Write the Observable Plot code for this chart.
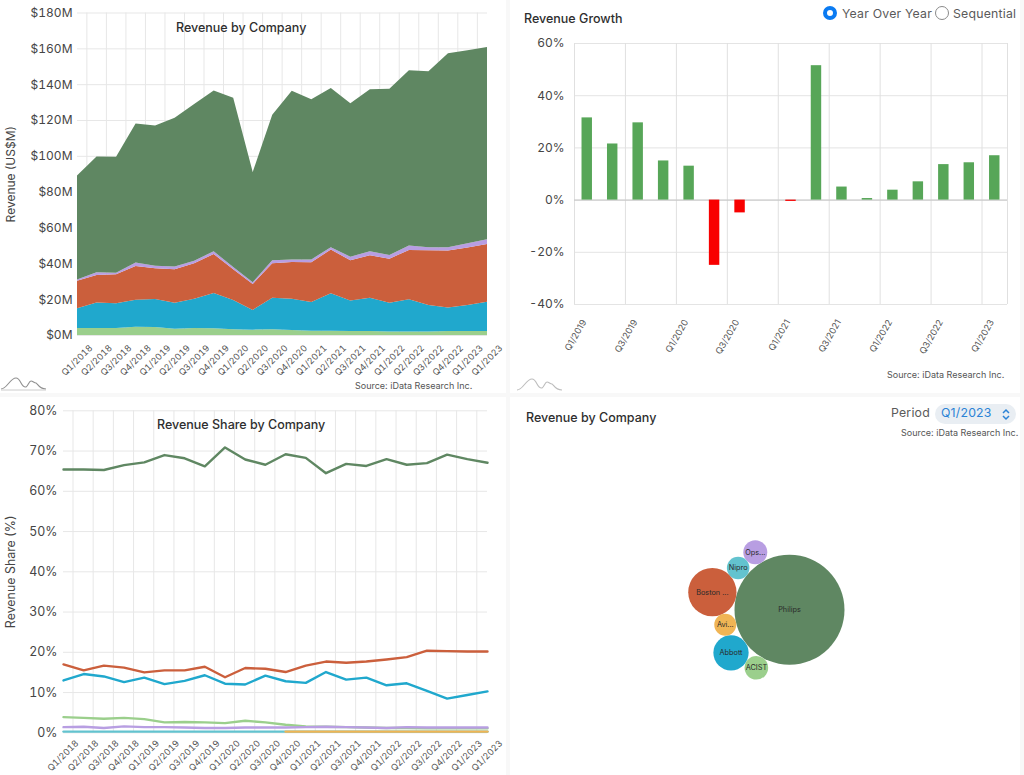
<!DOCTYPE html>
<html><head><meta charset="utf-8">
<script src="https://cdn.jsdelivr.net/npm/d3@7"></script>
<script src="https://cdn.jsdelivr.net/npm/@observablehq/plot@0.6"></script>
<style>
html,body{margin:0;padding:0;background:#f8f8f8;width:1024px;height:775px;overflow:hidden;font-family:Inter,"Noto Sans",sans-serif;}
.panel{position:absolute;background:#fff;}
.chart{position:absolute;}
.t{position:absolute;white-space:nowrap;line-height:1;}
.title{font-size:12.5px;font-weight:500;color:#2e2e2e;}
.src{font-size:9px;color:#555;}
.ctl{font-size:12.3px;color:#5a5a5a;letter-spacing:.2px;}
.radio{position:absolute;border-radius:50%;box-sizing:border-box;}
svg.logo{position:absolute;overflow:visible;}
</style></head><body>
<div class="panel" style="left:0;top:0;width:506px;height:393px"></div>
<div class="panel" style="left:510px;top:0;width:510px;height:393px"></div>
<div class="panel" style="left:0;top:397px;width:506px;height:378px"></div>
<div class="panel" style="left:510px;top:397px;width:510px;height:378px"></div>
<div class="chart" id="c1" style="left:0;top:0"></div>
<div class="chart" id="c2" style="left:510px;top:0"></div>
<div class="chart" id="c3" style="left:0;top:395px"></div>
<div class="chart" id="c4" style="left:510px;top:440px"></div>

<div class="t title" style="left:176px;top:22px">Revenue by Company</div>
<div class="t src" style="left:355px;top:381px">Source: iData Research Inc.</div>
<div class="t title" style="left:524px;top:13px">Revenue Growth</div>
<div class="t src" style="left:887px;top:370px">Source: iData Research Inc.</div>
<div class="t title" style="left:157px;top:419px">Revenue Share by Company</div>
<div class="t title" style="left:526px;top:412px">Revenue by Company</div>
<div class="t src" style="left:901px;top:428px">Source: iData Research Inc.</div>

<div class="radio" style="left:823px;top:6px;width:14px;height:14px;border:4px solid #0b7bf2;background:#fff"></div>
<div class="t ctl" style="left:842px;top:8px">Year Over Year</div>
<div class="radio" style="left:935px;top:6px;width:14px;height:14px;border:1px solid #8a8a8a;background:#fff"></div>
<div class="t ctl" style="left:953px;top:8px">Sequential</div>
<div class="t ctl" style="left:891px;top:407px">Period</div>
<div style="position:absolute;left:935px;top:404px;width:81px;height:20px;border-radius:10px;background:#e9eef3"></div>
<div class="t ctl" style="left:941px;top:407px;color:#2b83d6">Q1/2023</div>
<svg class="logo" style="left:1000px;top:408px" width="12" height="12" viewBox="0 0 12 12"><path d="M3 5 L6 2 L9 5 M3 8 L6 11 L9 8" fill="none" stroke="#2b83d6" stroke-width="1.5"/></svg>
<svg class="logo" style="left:0;top:375px" width="48" height="16" viewBox="0 0 48 16"><path d="M1 14 C7 14 10 3 16 3 C21 3 21 13 26 12 C28 11 29 6 31 6 C33 6 34 8 36 8 C38 9 39 14 46 14" fill="none" stroke="#8f8f8f" stroke-width="1.1"/><path d="M1 15 H46" stroke="#ccc" stroke-width="1"/></svg>
<svg class="logo" style="left:516px;top:376px" width="48" height="16" viewBox="0 0 48 16"><path d="M1 14 C7 14 10 3 16 3 C21 3 21 13 26 12 C28 11 29 6 31 6 C33 6 34 8 36 8 C38 9 39 14 46 14" fill="none" stroke="#bdbdbd" stroke-width="1.1"/></svg>

<script>
// ---------- data ----------
const companies = ["ACIST","Abbott","Boston Scientific","OpSens","Philips","Nipro","Avinger"];
const companyColors = ["#9bcf8c","#20a8cd","#cb5f3c","#b89ee2","#5f8762","#63c3cf","#f0b555"];

const trendLabels = ["Q1/2018","Q2/2018","Q3/2018","Q4/2018","Q1/2019","Q2/2019","Q3/2019","Q4/2019","Q1/2020","Q2/2020","Q3/2020","Q4/2020","Q1/2021","Q2/2021","Q3/2021","Q4/2021","Q1/2022","Q2/2022","Q3/2022","Q4/2022","Q1/2023","Q1/2023"];

const revAcist  = [3.9,3.9,3.9,4.6,4.4,3.5,3.9,3.7,3.2,3,3.2,2.8,2.4,2.4,2.2,2.2,2,1.9,1.9,2.2,2.2,2.2];
const revAbbott = [11.1,14.3,13.8,15.1,15.7,14.5,16.4,19.8,16.3,11,17.6,17.5,16,20.9,17,18.6,16,18.1,14.9,13.1,14.6,16.4];
const revBoston = [15.3,15.3,16.2,18.8,17.1,18.7,19.7,21.7,17.2,14.5,19.2,20.5,22.2,24.4,22.5,23.7,24.6,27.5,30.5,31.8,32,32.2];
const revOps    = [.7,1.5,.9,1.9,1.5,1.6,1.5,1.5,1.3,.9,1.7,1.4,1.6,1.3,2,2.2,2.1,2.4,1.7,1.9,2.4,2.6];
const revPhilips= [58,64.6,64.7,77.6,78.3,83,87.5,89.7,94.4,61.6,81.3,94.1,89.4,88.8,85.7,90.5,92.7,97.9,98.2,108.3,107.8,107.3];

const shPhilips = [65.4,65.4,65.3,66.5,67.2,69,68.2,66.2,70.9,67.9,66.6,69.2,68.3,64.5,66.8,66.3,68,66.6,67,69.1,68,67.1];
const shBoston  = [17,15.5,16.7,16.2,15,15.5,15.5,16.4,13.8,16.1,15.9,15.1,16.7,17.7,17.4,17.7,18.2,18.8,20.4,20.3,20.2,20.2];
const shAbbott  = [13,14.6,14,12.6,13.7,12.1,12.9,14.3,12.2,12,14.2,12.8,12.4,15.1,13.2,13.7,11.8,12.3,10.4,8.5,9.4,10.3];
const shAcist   = [3.9,3.7,3.5,3.7,3.4,2.6,2.7,2.6,2.4,3,2.6,2,1.6,1.5,1.4,1.3,1.2,1.2,1.1,1.1,1.1,1.1];
const shNipro   = [.3,.3,.3,.3,.3,.3,.3,.3,.3,.3,.3,.3,.3,.3,.3,.3,.3,.3,.3,.3,.3,.3];
const shAvinger = [null,null,null,null,null,null,null,null,null,null,null,.3,.3,.3,.3,.3,.3,.3,.3,.3,.3,.3];
const shOps     = [1.4,1.5,1.2,1.6,1.4,1.4,1.3,1.2,1.2,1.3,1.3,1.3,1.4,1.5,1.4,1.3,1.2,1.4,1.3,1.3,1.3,1.3];

const growthLabels = ["Q1/2019","Q2/2019","Q3/2019","Q4/2019","Q1/2020","Q2/2020","Q3/2020","Q4/2020","Q1/2021","Q2/2021","Q3/2021","Q4/2021","Q1/2022","Q2/2022","Q3/2022","Q4/2022","Q1/2023"];
const growthValues = [31.5,21.5,29.6,15,13,-25,-4.9,0,-.5,51.5,5,.6,3.8,7,13.6,14.3,17];

const bubbleCompanies = ["Philips","Boston Scientific","Nipro","Avinger","Abbott","OpSens","ACIST"];
const bubbleLabels    = ["Philips","Boston ...","Nipro","Avi...","Abbott","Ops...","ACIST"];
const bubbleValues    = [107.3,32.2,.9,.2,16.4,2.6,2.2];

// ---------- shared ----------
const font = {fontFamily:"Inter, sans-serif", background:"transparent", overflow:"visible"};
const axisInk = "#454545";
const gridInk = "#e7e7e7";
const idx = trendLabels.map((_, i) => i);
const long = (series) => series.flatMap(([c, vals]) => vals.map((v, i) => ({c, i, v})));

// ---------- chart 1: stacked area ----------
const revenue = long([["ACIST",revAcist],["Abbott",revAbbott],["Boston Scientific",revBoston],["OpSens",revOps],["Philips",revPhilips]]);
document.getElementById("c1").append(Plot.plot({
  width:506, height:393, marginLeft:77, marginRight:19, marginTop:12.5, marginBottom:58, style:font,
  x:{domain:[0,21], axis:null},
  y:{domain:[0,180], axis:null},
  color:{domain:companies, range:companyColors},
  marks:[
    Plot.ruleY(d3.range(0,181,20),{stroke:gridInk}),
    Plot.ruleX(idx.slice(0,21),{x:i=>i+.48,stroke:gridInk}),
    Plot.areaY(revenue,{x:"i",y:"v",z:"c",fill:"c",order:null}),
    Plot.axisY({ticks:d3.range(0,181,20),tickFormat:d=>`$${d}M`,tickSize:0,tickPadding:5,fontSize:12,color:axisInk,label:"Revenue (US$M)",labelAnchor:"center",labelArrow:"none",labelOffset:71}),
    Plot.axisX({ticks:idx,tickFormat:i=>trendLabels[i],tickRotate:-45,tickSize:0,tickPadding:11,dx:13.5,fontSize:9,color:"#555",label:null})
  ]
}));

// ---------- chart 2: growth bars ----------
const growth = growthLabels.map((q,i)=>({q,i,v:growthValues[i]}));
document.getElementById("c2").append(Plot.plot({
  width:510, height:393, marginLeft:64, marginRight:13, marginTop:43, marginBottom:89, style:font,
  x:{type:"band",domain:growthLabels,axis:null,paddingInner:.59,paddingOuter:.295,round:false},
  y:{domain:[-40,60],axis:null},
  marks:[
    Plot.ruleY(d3.range(-40,61,20),{stroke:"#e4e4e4"}),
    Plot.ruleX(growthLabels.filter((_,i)=>i%2==0),{stroke:"#e0e0e0",dx:-12.74}),
    Plot.ruleX(growthLabels.slice(-1),{stroke:"#e0e0e0",dx:12.74}),
    Plot.ruleY([0],{stroke:"#c4c4c4"}),
    Plot.barY(growth,{x:"q",y:"v",fill:d=>d.v<0?"#f80000":"#57a658"}),
    Plot.axisY({ticks:d3.range(-40,61,20),tickFormat:d=>`${d}%`,tickSize:0,tickPadding:10,fontSize:12,color:axisInk,label:null}),
    Plot.axisX({ticks:growthLabels.filter((_,i)=>i%2==0),tickRotate:-60,tickSize:0,tickPadding:16,dx:-3,fontSize:9,color:"#555",label:null})
  ]
}));

// ---------- chart 3: share lines ----------
const share = long([["Philips",shPhilips],["Boston Scientific",shBoston],["Abbott",shAbbott],["ACIST",shAcist],["Nipro",shNipro],["Avinger",shAvinger],["OpSens",shOps]]);
document.getElementById("c3").append(Plot.plot({
  width:506, height:380, marginLeft:63, marginRight:19, marginTop:15.3, marginBottom:42.7, style:font,
  x:{domain:[0,21],axis:null},
  y:{domain:[0,80],axis:null},
  color:{domain:companies,range:companyColors},
  marks:[
    Plot.ruleY(d3.range(0,81,10),{stroke:gridInk}),
    Plot.ruleX(idx.slice(0,21),{x:i=>i+.47,stroke:gridInk}),
    Plot.lineY(share,{x:"i",y:"v",z:"c",stroke:"c",strokeWidth:2.4}),
    Plot.axisY({ticks:d3.range(0,81,10),tickFormat:d=>`${d}%`,tickSize:0,tickPadding:6,fontSize:12.4,color:axisInk,label:"Revenue Share (%)",labelAnchor:"center",labelArrow:"none",labelOffset:57}),
    Plot.axisX({ticks:idx,tickFormat:i=>trendLabels[i],tickRotate:-45,tickSize:0,tickPadding:9,dx:13.5,fontSize:9,color:"#555",label:null})
  ]
}));

// ---------- chart 4: packed bubbles ----------
const rDomain=[0,107.3], rRange=[10.9,55];
const rOf=d3.scaleLinear(rDomain,rRange);
const packed=bubbleValues.map(v=>({r:rOf(v)}));
d3.packSiblings(packed);
const turn=Math.atan2(-17.6,-77);
const ox=packed[0].x, oy=packed[0].y;
const bubbles=packed.map((p,i)=>{
  const dx=p.x-ox, dy=p.y-oy;
  return {name:bubbleCompanies[i],label:bubbleLabels[i],v:bubbleValues[i],
    x:dx*Math.cos(turn)-dy*Math.sin(turn), y:dx*Math.sin(turn)+dy*Math.cos(turn)};
});
document.getElementById("c4").append(Plot.plot({
  width:510, height:335, margin:0, style:font,
  x:{domain:[-279,231],range:[0,510],axis:null},
  y:{domain:[-169.3,165.7],range:[0,335],axis:null},
  r:{type:"linear",domain:rDomain,range:rRange},
  color:{domain:companies,range:companyColors},
  marks:[
    Plot.dot(bubbles,{x:"x",y:"y",r:"v",fill:"name"}),
    Plot.text(bubbles,{x:"x",y:"y",text:"label",fontSize:7.3,fill:"#2a2a2a"})
  ]
}));
</script>
</body></html>
